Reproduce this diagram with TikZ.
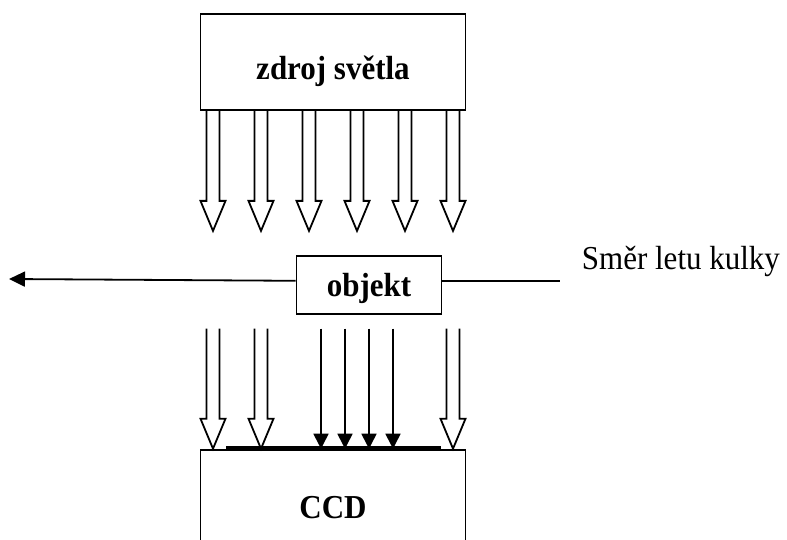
\documentclass[tikz,border=0pt]{standalone}
\usepackage{fontspec}
\setmainfont{Liberation Serif}
\usepackage{graphicx}
\usepackage{tikz}
\usetikzlibrary{arrows.meta,positioning}
\newcommand{\bigfont}{\fontsize{31pt}{37pt}\selectfont}
\newcommand{\tall}[1]{\scalebox{1}[1.08]{#1}}

\begin{document}
\begin{tikzpicture}[
  x=1pt,y=-1pt,
  pbox/.style={rectangle,draw,line width=1.8pt,font=\bigfont\bfseries,text depth=0pt,inner sep=0pt},
  ray/.style={line width=1.8pt},
  hollow/.pic={\draw[ray] (-6.5,0) -- (-6.5,90) -- (-12.5,90) -- (0,120) -- (12.5,90) -- (6.5,90) -- (6.5,0);}
]
  \useasboundingbox (0,0) rectangle (787,540);
  \clip (0,0) rectangle (787,540);

  \node[pbox,minimum width=265pt,minimum height=96pt,text height=36pt] (src) at (333,62) {\tall{zdroj světla}};
  \node[pbox,minimum width=145pt,minimum height=58pt,below=144pt of src,xshift=36pt] (obj) {\tall{objekt}};
  \node[pbox,minimum width=265pt,minimum height=116pt,below=134pt of obj,xshift=-36pt] (ccd) {\tall{CCD}};

  % light from the source
  \foreach \dx in {-120,-72,-24,24,72,120}
    \pic at ([xshift=\dx pt]src.south) {hollow};

  % light passing the object
  \coordinate (bot) at (src.south |- obj.south);
  \foreach \dx in {-120,-72,120}
    \pic at ([xshift=\dx pt,yshift=-14pt]bot) {hollow};
  \foreach \dx in {-12,12,36,60}
    \draw[ray,-{Triangle[length=15pt,width=15pt]}] ([xshift=\dx pt,yshift=-14pt]bot) -- ([xshift=\dx pt]ccd.north);

  \draw[line width=4.5pt] ([xshift=-107pt]ccd.north) -- ([xshift=108pt]ccd.north);

  % flight direction
  \coordinate (lineL) at (9,279);
  \coordinate (lineR) at ([xshift=118pt,yshift=4pt]obj.east);
  \draw[ray,-{Triangle[length=16pt,width=15pt]}] ([yshift=4pt]obj.west) -- (lineL);
  \draw[ray] ([yshift=4pt]obj.east) -- (lineR);
  \node[anchor=base west,font=\bigfont] (dir) at ([xshift=18pt,yshift=11pt]lineR) {\tall{Směr letu kulky}};
\end{tikzpicture}
\end{document}
